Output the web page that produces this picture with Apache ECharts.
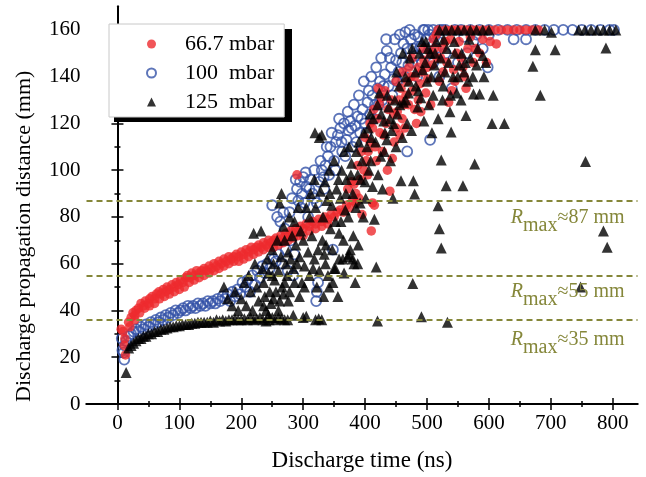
<!DOCTYPE html>
<html><head><meta charset="utf-8">
<script src="https://cdn.jsdelivr.net/npm/echarts@6/dist/echarts.min.js"></script>
<style>html,body{margin:0;padding:0;background:#fff}#c{width:646px;height:477px}</style>
</head><body><div id="c"></div>
<script>
// ---- data (time ns, distance mm) ----
const seriesNames = ['66.7 mbar', '100  mbar', '125  mbar'];
const xTicks = [0, 100, 200, 300, 400, 500, 600, 700, 800];
const xMinorTicks = [50, 150, 250, 350, 450, 550, 650, 750];
const yTicks = [0, 20, 40, 60, 80, 100, 120, 140, 160];
const yMinorTicks = [10, 30, 50, 70, 90, 110, 130, 150];
const rmaxLevels = [87, 55, 36];
const rmaxTexts = ['87', '55', '35'];

const red66 = [
[6,32],[9,31],[11,25],[13,21],[12,28],
[18,35],[22,37],[25,39],[28,38],[30,40],[34,41],[38,43],[42,42],[45,44],[50,43],[52,45],[56,46],[60,45],[63,47],[67,48],[70,47],[74,49],[78,48],[80,50],[84,49],[88,51],[92,50],[95,52],[98,51],[102,53],[106,52],[110,54],[113,55],[117,54],[120,56],[124,55],[128,57],[132,56],[136,57],[140,58],[144,57],[148,59],[152,58],[156,60],[160,59],[164,61],[168,60],[172,62],[176,61],[180,63],[184,62],[188,63],[192,64],[196,63],[200,65],[204,64],[208,66],[212,65],[216,67],[220,66],[224,67],[228,68],[232,67],[236,69],[240,68],[244,70],[248,69],[252,70],[256,71],[260,70],[264,72],[268,71],[272,73],[276,72],[280,74],[284,73],[288,75],[292,74],[296,76],[300,75],[305,77],[310,76],[315,78],[320,77],[325,79],[330,78],[335,80],[340,79],[345,81],[350,80],[355,82],[360,83],[365,82],[370,85],[375,84],[380,87],[385,86],[390,88],[395,81],
[20,33],[28,36],[36,39],[44,41],[52,42],[60,43],[68,45],[76,46],[84,47],[92,48],[100,49],[108,50],[116,52],[124,53],[132,54],[140,55],[148,56],[156,57],[164,58],[172,59],[180,60],[188,61],[196,61],[204,62],[212,63],[220,64],[228,65],[236,66],[244,67],[252,67],[260,68],[268,69],[276,70],[284,71],[292,72],[300,72],[310,74],[320,75],[330,76],[340,77],
[290,98],[372,92],[378,95],[385,90],[392,96],[398,100],[402,104],[405,108],[410,74],[412,86],[415,85],[408,112],[412,118],[416,110],[420,122],[423,128],[426,131],[421,135],[430,115],[434,120],[437,126],[440,91],[444,105],[447,112],[450,118],[452,125],[455,130],[458,135],[460,122],[463,128],[466,132],[468,138],[471,144],[474,140],[477,134],[480,126],[483,120],[486,130],[489,137],[492,142],[495,147],[498,133],[501,139],[505,150],[508,145],[512,152],[515,158],[518,160],[522,148],[526,142],[530,155],[535,129],[540,134],[543,143],[548,150],[555,148],[560,140],[563,135],[570,157],[578,152],[585,150],[596,146],[602,155],[612,154],
[382,94],[388,102],[394,108],[400,114],[404,98],[408,120],[414,126],[418,104],[424,116],[428,108],[432,134],[436,100],[442,130],[446,124],[450,138],[456,115],[460,142],[464,118],[470,128],[476,148],[480,140],[486,144],[490,125],[494,152],[500,144],[506,128],[510,156],[516,148],[520,138],[525,152],[532,146],[538,156],[545,138],[552,155],[558,144],[566,152],[575,146],[590,156],
[530,160],[540,160],[548,160],[556,160],[564,160],[572,160],[580,160],[590,160],[600,160],[610,160],[620,160],[630,160],[640,160],[650,160],[660,160],[670,160],[680,160]
];

const blue100 = [
[7,28],[8,23],[10,22],[11,19],[12,25],[14,27],
[18,29],[22,30],[26,31],[30,32],[34,31],[38,33],[42,32],[46,34],[50,33],[54,35],[58,34],[62,36],[66,35],[70,37],[74,36],[78,38],[82,37],[86,39],[90,38],[94,40],[98,39],[102,40],[106,41],[110,40],[114,42],[118,41],[122,42],[126,41],[130,43],[134,42],[138,43],[142,42],[146,44],[150,43],[154,44],[158,43],[162,45],[166,44],[170,46],[174,45],[178,47],[182,44],[186,48],[190,46],[194,49],[198,47],[202,52],[206,50],[210,53],[214,48],[218,55],[222,51],[226,57],[230,54],[234,59],[238,56],[242,60],[246,58],[250,85],[252,62],[256,61],[258,80],[260,64],[263,78],[266,60],[268,82],[270,75],[272,66],[275,57],[278,82],[280,70],[284,55],[286,64],[290,92],[292,87],[295,95],[298,90],[300,97],[302,86],[305,93],[308,80],[312,96],[315,90],[318,88],[321,44],[322,48],[324,52],[326,95],[330,100],[333,97],[336,102],[340,106],[344,110],[348,66],[350,104],[353,112],[356,115],[360,118],[363,108],[366,120],[370,113],[373,117],[376,121],[380,110],[384,119],[388,123],[392,116],[396,126],[400,120],[404,129],[408,124],[412,132],[416,128],[420,135],[424,138],[428,130],[432,141],[435,151],[438,136],[442,144],[446,139],[450,147],[454,142],[458,150],[462,154],[465,159],[468,108],[470,145],[474,156],[478,152],[482,149],[486,157],[490,153],[494,160],[498,156],[502,160],[505,113],[508,150],[512,157],[518,155],[525,160],[540,135],[560,157],[580,158],[598,144],[640,156],[660,156],
[282,88],[288,96],[296,84],[304,99],[310,92],[318,100],[322,86],[328,104],[334,92],[338,110],[342,98],[346,116],[352,100],[358,122],[362,112],[368,106],[372,125],[378,118],[382,128],[386,112],[390,132],[394,122],[398,138],[402,116],[406,134],[410,140],[414,122],[418,144],[422,128],[426,148],[430,136],[434,156],[440,148],[444,132],[448,156],[452,138],[456,158],[460,146],[464,140],[468,152],[472,160],[476,146],[480,158],[484,140],[488,152],[492,146],[496,160],[500,150],[504,158],[510,146],[514,152],[520,140],[530,150],[550,146],[565,150],[575,155],[590,152],[600,158],
[510,160],[520,160],[530,160],[545,160],[555,160],[570,160],[585,160],[600,160],[615,160],[630,160],[645,160],[660,160],[675,160],[690,160],[705,160],[720,160],[735,160],[750,160],[765,160],[780,160],[795,160],[802,160]
];

const black125 = [
[14,13.5],[18,24],[22,25],[26,26],[30,27],[34,28],[38,28],[42,29],[46,29],[50,30],[55,30],[60,31],[65,31],[70,32],[75,32],[80,32.5],[85,33],[90,33],[95,33.5],[100,33.5],[105,34],[110,34],[115,34],[120,34.5],[125,34.5],[130,35],[135,35],[140,35],[145,35],[150,35.5],[155,35],[160,36],[165,35.5],[170,36],[175,35.5],[180,36],[185,36],[190,36.5],[195,36],[200,36],[205,36.5],[210,36],[215,37],[220,36],[225,36.5],[230,37],[235,36],[240,35.5],[245,36],[250,37],[255,36],[260,37],[265,36.5],[270,36],[275,36],[300,37],[305,37.5],[320,36],[325,36.5],[330,36],
[236,42],[244,38],[252,45],[260,40],[268,47],[276,44],[284,38],[250,55],
[262,44],[270,52],[278,48],[286,52],[294,46],[302,50],[310,55],[318,62],[326,57],[334,64],[342,50],[350,58],[358,62],[366,56],[374,64],[380,62],[388,60],
[172,50],[178,45],[185,42],[190,48],[195,40],[200,45],[205,52],[208,42],[212,55],[215,48],[218,40],[220,73],[222,60],[225,50],[228,44],[232,74],[234,58],[236,52],[238,46],[240,40],[242,62],[244,56],[246,48],[248,43],[250,66],[252,60],[254,53],[256,48],[258,70],[260,57],[262,86],[264,63],[265,90],[266,50],[268,76],[270,70],[272,60],[274,55],[276,65],[278,80],[280,62],[282,72],[284,58],[286,78],[288,68],[290,60],[292,84],[294,63],[296,74],[298,52],[300,70],[302,59],[305,84],[308,65],[310,80],[312,90],[314,72],[316,58],[318,96],[319,116],[320,84],[322,50],[324,66],[326,114],[328,91],[330,115],[331,70],[333,46],[335,95],[336,60],[338,87],[340,55],[342,100],[344,75],[346,85],[348,52],[350,104],[352,78],[354,92],[356,46],[358,73],[360,88],[362,100],[364,62],[366,108],[368,83],[370,96],[372,63],[374,110],[376,66],[378,103],[380,90],[382,60],[384,52],[386,108],[388,98],[390,112],[392,86],[395,104],[398,116],[400,95],[403,110],[406,100],[408,124],[410,114],[412,93],[415,79],[418,58.6],[420,35.5],[420,128],[423,133],[425,106],[428,92],[430,121],[432,116],[435,113],[438,127],[440,122],[443,117],[445,88],[448,130],[450,110],[452,124],[455,136],[458,95.5],[460,114],[462,129],[465,140],[468,120],[470,133],[472,148],[475,117],[477,51.5],[478,95.5],[480,89.8],[482,136],[485,127],[488,150],[490,131],[491,37.3],[493,143],[495,121],[498,155],[500,138],[503,128],[505,150],[508,116],[510,132],[512,145],[515,155],[518,84.8],[518,122],[520,75],[522,148],[523,66.7],[523,104.4],[525,130],[527,156],[529,142],[531,93.3],[533,35],[535,146],[537,125],[539,116.3],[542,140],[545,150],[548,133],[552,145],[555,130],[558,93.3],[560,142],[563,123.4],[566,138],[570,148],[575,132.6],[577,102.6],[580,145],[585,132.6],[590,149],[595,146],[605,120],[607,132],[625,120],[671,144.4],[675,151.5],[683,132],[707,151.5],[748,50],[756,103.7],[785,74],[789,152.2],[791,67],
[332,80],[337,68],[343,90],[347,66],[352,58],[357,96],[361,78],[365,70],[369,90],[373,80],[377,98],[381,72],[385,84],[389,68],[393,96],[397,80],[401,88],[405,118],[409,104],[413,122],[417,112],[421,98],[426,124],[431,108],[436,132],[441,104],[446,120],[451,142],[456,128],[461,150],[466,130],[471,138],[476,152],[481,142],[486,134],[492,155],[497,146],[502,152],[507,140],[513,150],[519,140],[526,136],[532,152],[538,132],[544,155],[550,140],[556,150],[562,146],[568,156],[574,140],[582,152],[592,140],
[520,160],[530,160],[540,160],[550,160],[560,160],[570,160],[580,160],[590,160],[600,160],[675,160],[690,160],[701,159],[745,160],[755,160],[765,160],[775,160],[785,160],[795,160],[805,160]
];

// ---- chart ----
const FONT = "'Liberation Serif', 'Times New Roman', serif";
const OLIVE = '#85873a';
const chart = echarts.init(document.getElementById('c'), null, {renderer: 'canvas'});

function xAx(pos, ticks, len, main) {
  return {
    type: 'value', position: pos, min: -50, max: 840,
    axisLine: {show: main, lineStyle: {color: '#000', width: 2}},
    axisTick: {show: true, inside: true, length: len, customValues: ticks, lineStyle: {color: '#000', width: 1.5}},
    axisLabel: (main && pos === 'bottom') ? {show: true, customValues: ticks, fontSize: 21, fontFamily: FONT, color: '#000', margin: 9} : {show: false},
    splitLine: {show: false}
  };
}
function yAx(pos, ticks, len, main) {
  return {
    type: 'value', position: pos, min: 0, max: 170,
    axisLine: {show: main, lineStyle: {color: '#000', width: 2}},
    axisTick: {show: true, inside: true, length: len, customValues: ticks, lineStyle: {color: '#000', width: 1.5}},
    axisLabel: (main && pos === 'left') ? {show: true, customValues: ticks, fontSize: 21, fontFamily: FONT, color: '#000', margin: 6} : {show: false},
    splitLine: {show: false}
  };
}
const xAxes = [xAx('bottom', xTicks, 6, true), xAx('bottom', xMinorTicks, 3, false), xAx('top', xTicks, 6, true), xAx('top', xMinorTicks, 3, false)];
xAxes[0].name = 'Discharge time (ns)';
xAxes[0].nameLocation = 'middle';
xAxes[0].nameGap = 45;
xAxes[0].nameTextStyle = {fontSize: 23, fontFamily: FONT, color: '#000'};
const yAxes = [yAx('left', yTicks, 6, true), yAx('left', yMinorTicks, 3, false), yAx('right', yTicks, 6, true), yAx('right', yMinorTicks, 3, false)];
yAxes[0].name = 'Discharge propagation distance (mm)';
yAxes[0].nameLocation = 'middle';
yAxes[0].nameGap = 51;
yAxes[0].nameTextStyle = {fontSize: 22, fontFamily: FONT, color: '#000', padding: [0, 62, 0, 0]};

const markData = rmaxLevels.map((v, i) => ({
  yAxis: v,
  label: {distance: [13, [-1, -2, 2][i]], formatter: '{r|R}{s|max}{t|≈' + rmaxTexts[i] + ' mm}'}
}));

chart.setOption({
  animation: false,
  backgroundColor: '#fff',
  grid: {left: 86.5, right: 8.5, top: 6.5, bottom: 72, containLabel: false},
  xAxis: xAxes,
  yAxis: yAxes,
  graphic: [{type: 'rect', shape: {x: 114, y: 29, width: 178, height: 93}, style: {fill: '#000'}, z: 0, silent: true}],
  legend: {
    data: seriesNames, orient: 'vertical', left: 109, top: 24,
    padding: [9, 10, 4, 37], itemGap: 7, itemWidth: 9, itemHeight: 9,
    backgroundColor: '#fff', borderColor: '#c8c8c8', borderWidth: 1,
    formatter: name => '{a|' + name + '}',
    textStyle: {fontSize: 22, fontFamily: FONT, color: '#000',
      rich: {a: {fontSize: 22, fontFamily: FONT, color: '#000', lineHeight: 22, padding: [0, 0, 0, 24]}}}
  },
  series: [
    {
      name: 'rmax', type: 'line', data: [], z: 1, silent: true,
      markLine: {
        silent: true, symbol: 'none', animation: false,
        lineStyle: {type: [6, 4], color: OLIVE, width: 2},
        label: {
          position: 'insideEndBottom', color: OLIVE, fontFamily: FONT, fontSize: 20,
          rich: {
            r: {fontStyle: 'italic', fontSize: 20, fontFamily: FONT, color: OLIVE},
            s: {fontSize: 20, fontFamily: FONT, color: OLIVE, padding: [16, 0, 0, 0]},
            t: {fontSize: 20, fontFamily: FONT, color: OLIVE}
          }
        },
        data: markData
      }
    },
    {
      name: seriesNames[1], type: 'scatter', data: blue100, symbol: 'circle', symbolSize: 10, z: 2,
      itemStyle: {color: 'rgba(255,255,255,0)', borderColor: '#3553a8', borderWidth: 1.8}
    },
    {
      name: seriesNames[0], type: 'scatter', data: red66, symbol: 'circle', symbolSize: 9.5, z: 3,
      itemStyle: {color: '#ee2a2e'}
    },
    {
      name: seriesNames[2], type: 'scatter', data: black125, symbol: 'triangle', symbolSize: 11, z: 4,
      itemStyle: {color: '#000'}
    }
  ]
});
</script>
</body></html>
